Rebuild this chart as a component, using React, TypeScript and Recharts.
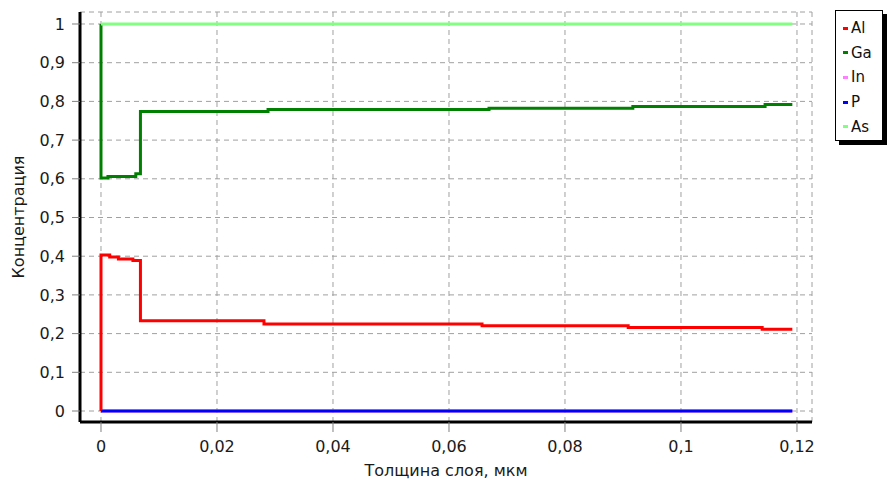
import React from 'react';
import { LineChart, Line, XAxis, YAxis, CartesianGrid, Legend, Label } from 'recharts';

// Толщина слоя (мкм) / концентрация
const alX = [0, 0, 0.0015, 0.003, 0.0055, 0.0068, 0.0281, 0.0657, 0.0909, 0.114, 0.1192];
const alY = [0, 0.403, 0.398, 0.393, 0.389, 0.233, 0.225, 0.22, 0.216, 0.211, 0.211];

const gaX = [0, 0, 0.0012, 0.006, 0.0068, 0.0288, 0.0669, 0.0917, 0.1145, 0.1192];
const gaY = [1, 0.602, 0.606, 0.613, 0.774, 0.779, 0.782, 0.787, 0.792, 0.792];

const inX = [0, 0.1192];
const inY = [0, 0];

const pX = [0, 0.1192];
const pY = [0, 0];

const asX = [0, 0.1192];
const asY = [1, 1];

const X_TICKS = [0, 0.02, 0.04, 0.06, 0.08, 0.1, 0.12];
const X_MINOR = [0.005, 0.01, 0.015, 0.025, 0.03, 0.035, 0.045, 0.05, 0.055, 0.065, 0.07, 0.075,
  0.085, 0.09, 0.095, 0.105, 0.11, 0.115];
const Y_TICKS = [0, 0.1, 0.2, 0.3, 0.4, 0.5, 0.6, 0.7, 0.8, 0.9, 1];
const Y_MINOR = [0.02, 0.04, 0.06, 0.08, 0.12, 0.14, 0.16, 0.18, 0.22, 0.24, 0.26, 0.28,
  0.32, 0.34, 0.36, 0.38, 0.42, 0.44, 0.46, 0.48, 0.52, 0.54, 0.56, 0.58,
  0.62, 0.64, 0.66, 0.68, 0.72, 0.74, 0.76, 0.78, 0.82, 0.84, 0.86, 0.88,
  0.92, 0.94, 0.96, 0.98];

const SERIES = [
  { name: 'Al', color: '#ff0000', xs: alX, ys: alY },
  { name: 'Ga', color: '#008000', xs: gaX, ys: gaY },
  { name: 'In', color: '#ff80ff', xs: inX, ys: inY },
  { name: 'P', color: '#0000ff', xs: pX, ys: pY },
  { name: 'As', color: '#80ff80', xs: asX, ys: asY },
];
const ORDER = SERIES.map((s) => s.name);

const X_DOMAIN = [-0.00362, 0.12259];
const Y_DOMAIN = [-0.0284, 1.031];

const FONT = '"DejaVu Sans", Verdana, sans-serif';
const comma = (v: number) => String(v).replace('.', ',');

const LegendBox = ({ payload }: any) => {
  // keep the series order, not alphabetical
  const items = [...(payload || [])].sort((a: any, b: any) => ORDER.indexOf(a.value) - ORDER.indexOf(b.value));
  return (
    <div
      style={{
        border: '1px solid #000',
        background: '#fff',
        boxShadow: '4px 4px 0 #000',
        width: 48,
        height: 131,
        paddingTop: 5,
        boxSizing: 'border-box',
        fontFamily: FONT,
        fontSize: 15,
        color: '#111',
      }}
    >
      {items.map((p: any) => (
        <div key={p.value} style={{ display: 'flex', alignItems: 'center', height: 24.6, paddingLeft: 7 }}>
          <span style={{ width: 5, height: 3, background: p.color, marginRight: 3 }} />
          <span>{p.value}</span>
        </div>
      ))}
    </div>
  );
};

export default function App() {
  const tickStyle = { fill: '#1a1a1a', fontSize: 16, fontFamily: FONT };
  return (
    <div style={{ position: 'absolute', left: 0, top: 0, background: '#fff' }}>
      <LineChart width={891} height={486} margin={{ top: 12, right: 79, bottom: 4, left: 10 }}>
        <CartesianGrid stroke="#a0a0a0" strokeDasharray="5 4" />
        <XAxis
          xAxisId="minor"
          type="number"
          dataKey="x"
          domain={X_DOMAIN}
          allowDataOverflow
          ticks={X_MINOR}
          height={0}
          axisLine={false}
          tick={false}
          tickSize={4}
          tickLine={{ stroke: '#808080' }}
        />
        <XAxis
          xAxisId={0}
          type="number"
          dataKey="x"
          domain={X_DOMAIN}
          allowDataOverflow
          ticks={X_TICKS}
          interval={0}
          height={60}
          tickFormatter={comma}
          tick={tickStyle}
          tickSize={10}
          tickMargin={9}
          tickLine={{ stroke: '#808080' }}
          axisLine={{ stroke: '#000', strokeWidth: 3 }}
        >
          <Label value="Толщина слоя, мкм" position="insideBottom" offset={6}
            style={{ fill: '#1a1a1a', fontSize: 16, fontFamily: FONT }} />
        </XAxis>
        <XAxis
          xAxisId="top"
          orientation="top"
          type="number"
          dataKey="x"
          domain={X_DOMAIN}
          allowDataOverflow
          height={0}
          tick={false}
          tickLine={false}
          axisLine={{ stroke: '#000' }}
        />
        <YAxis
          yAxisId="minor"
          type="number"
          domain={Y_DOMAIN}
          allowDataOverflow
          ticks={Y_MINOR}
          width={0}
          axisLine={false}
          tick={false}
          tickSize={3}
          tickLine={{ stroke: '#808080' }}
        />
        <YAxis
          yAxisId={0}
          type="number"
          domain={Y_DOMAIN}
          allowDataOverflow
          ticks={Y_TICKS}
          interval={0}
          width={70}
          tickFormatter={comma}
          tick={tickStyle}
          tickSize={8}
          tickMargin={7}
          tickLine={{ stroke: '#808080' }}
          axisLine={{ stroke: '#000', strokeWidth: 3 }}
        >
          <Label value="Концентрация" angle={-90} position="insideLeft" offset={8}
            style={{ fill: '#1a1a1a', fontSize: 16, fontFamily: FONT, textAnchor: 'middle' }} />
        </YAxis>
        <YAxis
          yAxisId="right"
          orientation="right"
          type="number"
          domain={Y_DOMAIN}
          allowDataOverflow
          width={0}
          tick={false}
          tickLine={false}
          axisLine={{ stroke: '#333', strokeWidth: 1.5 }}
        />
        <Legend
          layout="horizontal"
          verticalAlign="middle"
          content={<LegendBox />}
          wrapperStyle={{ left: 835, top: 10, right: 'auto', bottom: 'auto', width: 53 }}
        />
        {SERIES.map((s) => (
          <Line
            key={s.name}
            name={s.name}
            data={s.xs.map((x, i) => ({ x, y: s.ys[i] }))}
            dataKey="y"
            type="stepAfter"
            stroke={s.color}
            strokeWidth={3}
            dot={false}
            activeDot={false}
            isAnimationActive={false}
          />
        ))}
      </LineChart>
    </div>
  );
}
